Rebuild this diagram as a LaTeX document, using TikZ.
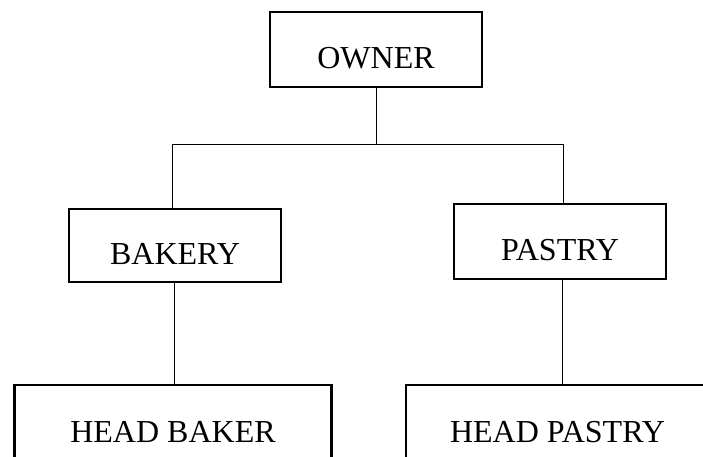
\documentclass[tikz,border=0pt]{standalone}
\usepackage{fontspec}
\setmainfont{Liberation Serif}
\begin{document}
\begin{tikzpicture}[x=1pt,y=-1pt,
  box/.style={draw=black,line width=2.8pt,fill=white,inner sep=0pt,
    text height=38pt,text depth=0pt,
    font=\fontsize{32}{34}\selectfont},
  link/.style={draw=black,line width=0.8pt}]
\useasboundingbox (0,0) rectangle (703,457);
\clip (0,0) rectangle (703,457);
\fill[white] (0,0) rectangle (703,457);
\node[box,minimum width=212pt,minimum height=75pt] (owner) at (376,49.5) {OWNER};
\node[box,minimum width=212pt,minimum height=73pt] (bakery) at (175,245.5) {BAKERY};
\node[box,minimum width=212pt,minimum height=75pt] (pastry) at (560,241.5) {PASTRY};
\node[box,minimum width=317pt,minimum height=76pt] (hbaker) at (173,423) {HEAD BAKER};
\node[box,minimum width=303pt,minimum height=76pt] (hpastry) at (557.5,423) {HEAD PASTRY};
\coordinate (jL) at (172,144);
\coordinate (jR) at (563,144);
\coordinate (jM) at (owner.south |- jL);
\draw[link] (owner.south) -- (jM);
\draw[link] (jL) -- (jR);
\draw[link] (jL) -- (jL |- bakery.north);
\draw[link] (jR) -- (jR |- pastry.north);
\draw[link] ([xshift=-1pt]bakery.south) -- ([xshift=-1pt]bakery.south |- hbaker.north);
\draw[link] ([xshift=2pt]pastry.south) -- ([xshift=2pt]pastry.south |- hpastry.north);
\end{tikzpicture}
\end{document}
